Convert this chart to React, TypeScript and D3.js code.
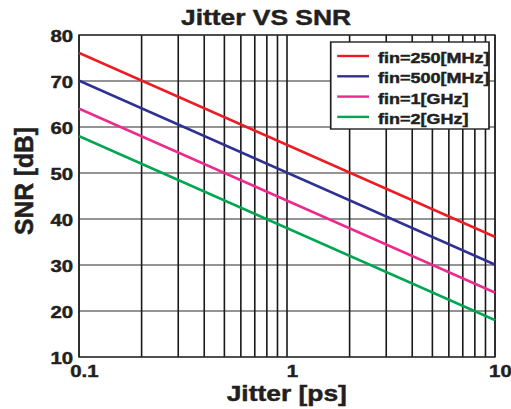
import React from 'react';
import * as d3 from 'd3';

// ---- data ----
const jitterPs = [0.1, 1, 10];
const snrFin250M = [76.1, 56.1, 36.1];
const snrFin500M = [70.1, 50.1, 30.1];
const snrFin1G = [64.0, 44.0, 24.0];
const snrFin2G = [58.0, 38.0, 18.0];
const seriesNames = ['fin=250[MHz]', 'fin=500[MHz]', 'fin=1[GHz]', 'fin=2[GHz]'];
const seriesColors = ['#ED1C24', '#2E3192', '#EC2A8E', '#00A651'];
const yTicks = [10, 20, 30, 40, 50, 60, 70, 80];
const xTickValues = [0.1, 1, 10];
const xTickLabels = ['0.1', '1', '10'];
const titleText = 'Jitter VS SNR';
const xTitle = 'Jitter [ps]';
const yTitle = 'SNR [dB]';

// ---- layout ----
const W = 511;
const H = 409;
const SX = 1.2; // horizontal stretch of the whole figure
const plot = { left: 79 / SX, right: 495 / SX, top: 35, bottom: 357 };
const FONT = '"Liberation Sans", Arial, Helvetica, sans-serif';
const INK = '#231F20';

export default function App() {
  const x = d3.scaleLog().domain([0.1, 10]).range([plot.left, plot.right]);
  const y = d3.scaleLinear().domain([10, 80]).range([plot.bottom, plot.top]);
  const series = [snrFin250M, snrFin500M, snrFin1G, snrFin2G];
  const line = d3
    .line<[number, number]>()
    .x((d) => x(d[0]))
    .y((d) => y(d[1]));
  const gridX = x.ticks();

  const legend = { x0: 275.6, x1: 407.5, y0: 42, y1: 129 };
  const textStroke = { stroke: INK, strokeWidth: 0.45 };

  return (
    <svg
      width={W}
      height={H}
      style={{ position: 'absolute', left: 0, top: 0, background: '#fff' }}
    >
      <rect x={0} y={0} width={W} height={H} fill="#fff" />
      <g transform={`scale(${SX},1)`} fontFamily={FONT} fontWeight={700} fill={INK}>
        {/* horizontal grid */}
        {yTicks.map((t) => (
          <line
            key={'h' + t}
            x1={plot.left}
            x2={plot.right}
            y1={y(t)}
            y2={y(t)}
            stroke="#2a2a2a"
            strokeWidth={1.2}
          />
        ))}
        {/* vertical grid */}
        {gridX.map((t, i) => (
          <line
            key={'v' + i}
            x1={x(t)}
            x2={x(t)}
            y1={plot.top}
            y2={plot.bottom}
            stroke="#1a1a1a"
            strokeWidth={1.35}
          />
        ))}
        {/* frame */}
        <rect
          x={plot.left}
          y={plot.top}
          width={plot.right - plot.left}
          height={plot.bottom - plot.top}
          fill="none"
          stroke="#2a2a2a"
          strokeWidth={1.3}
        />
        {/* data lines */}
        {series.map((s, i) => (
          <path
            key={'s' + i}
            d={line(jitterPs.map((j, k) => [j, s[k]] as [number, number])) || ''}
            fill="none"
            stroke={seriesColors[i]}
            strokeWidth={2.6}
          />
        ))}
        {/* legend */}
        <rect
          x={legend.x0}
          y={legend.y0}
          width={legend.x1 - legend.x0}
          height={legend.y1 - legend.y0}
          fill="#fff"
          stroke={INK}
          strokeWidth={1.4}
        />
        {seriesNames.map((n, i) => {
          const ly = 56 + i * 20.3;
          return (
            <g key={'l' + i}>
              <line
                x1={281}
                x2={307.5}
                y1={ly}
                y2={ly}
                stroke={seriesColors[i]}
                strokeWidth={2.4}
              />
              <text x={315} y={ly + 7} fontSize={15} {...textStroke}>
                {n}
              </text>
            </g>
          );
        })}
        {/* y tick labels */}
        {yTicks.map((t) => (
          <text key={'yl' + t} x={61} y={y(t) + 7} fontSize={17} textAnchor="end" {...textStroke}>
            {t}
          </text>
        ))}
        {/* x tick labels */}
        {xTickValues.map((t, i) => (
          <text
            key={'xl' + t}
            x={x(t) + 4.5}
            y={377}
            fontSize={17}
            textAnchor="middle"
            {...textStroke}
          >
            {xTickLabels[i]}
          </text>
        ))}
        {/* title */}
        <text x={221.7} y={25} fontSize={22} textAnchor="middle" {...textStroke}>
          {titleText}
        </text>
        {/* x axis title */}
        <text x={239} y={401} fontSize={22} textAnchor="middle" {...textStroke}>
          {xTitle}
        </text>
        {/* y axis title */}
        <text
          transform={`translate(27.5,181) rotate(-90)`}
          fontSize={22}
          textAnchor="middle"
          textLength={108}
          lengthAdjust="spacingAndGlyphs"
          {...textStroke}
        >
          {yTitle}
        </text>
      </g>
    </svg>
  );
}
